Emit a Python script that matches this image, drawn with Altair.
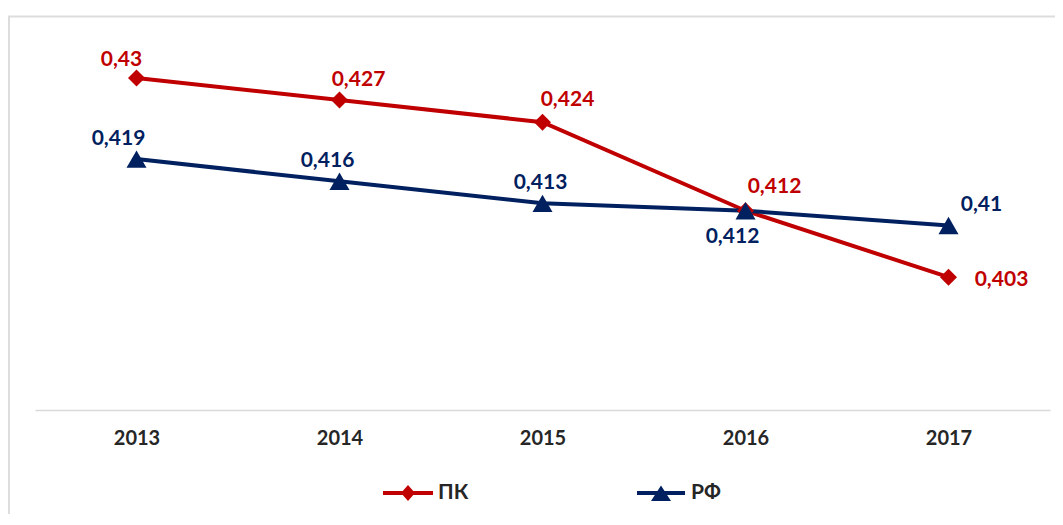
import altair as alt
import pandas as pd

# ---- data ----
years = ["2013", "2014", "2015", "2016", "2017"]
series_names = ["ПК", "РФ"]
pk_values = [0.43, 0.427, 0.424, 0.412, 0.403]
rf_values = [0.419, 0.416, 0.413, 0.412, 0.41]

# label offsets in px relative to each point (as placed in the original)
pk_label_dx = [-15, 19, 25, 29, 53]
pk_label_dy = [-18, -20, -22, -24, 3]
rf_label_dx = [-18, -12, -2, -13, 33]
rf_label_dy = [-20, -20, -20, 26, -21]

COLORS = {"ПК": "#C00000", "РФ": "#002060"}
SHAPES = {"ПК": "diamond", "РФ": "triangle-up"}
SIZES = {"ПК": 290, "РФ": 400}
LEGEND_PATHS = {
    "ПК": "M-1,-0.08L1,-0.08L1,0.08L-1,0.08Z M0,-0.32L0.28,0L0,0.32L-0.28,0Z",
    "РФ": "M-0.96,-0.08L0.96,-0.08L0.96,0.08L-0.96,0.08Z M0,-0.3L0.4,0.32L-0.4,0.32Z",
}
FONT = "Lato, 'Noto Sans', sans-serif"

values = {"ПК": pk_values, "РФ": rf_values}
dxs = {"ПК": pk_label_dx, "РФ": rf_label_dx}
dys = {"ПК": pk_label_dy, "РФ": rf_label_dy}

rows = []
for s in series_names:
    for y, v in zip(years, values[s]):
        rows.append({"year": y, "series": s, "value": v,
                     "label": str(v).replace(".", ",")})
df = pd.DataFrame(rows)

W, H = 1015, 369

x_enc = alt.X("year:O", scale=alt.Scale(type="point", padding=0.5),
              axis=alt.Axis(title=None, ticks=False, labelAngle=0,
                            labelFont=FONT, labelFontSize=20, labelFontWeight="bold",
                            labelColor="#262626", labelPadding=18,
                            domainColor="#D9D9D9", domainWidth=1.5, grid=False))
y_enc = alt.Y("value:Q", scale=alt.Scale(domain=[0.385, 0.435], nice=False, zero=False),
              axis=None)

frame = alt.Chart(pd.DataFrame({"a": [0]})).mark_rect(
    fillOpacity=0, stroke="#DDDDDD", strokeWidth=2
).encode(x=alt.value(-26), x2=alt.value(W + 60), y=alt.value(-24.5), y2=alt.value(H + 300))

layers = [frame]
for s in series_names:
    layers.append(
        alt.Chart(df).transform_filter(alt.datum.series == s)
        .mark_line(color=COLORS[s], strokeWidth=4)
        .encode(x=x_enc, y=y_enc)
    )
for s in series_names:
    layers.append(
        alt.Chart(df).transform_filter(alt.datum.series == s)
        .mark_point(filled=True, shape=SHAPES[s], size=SIZES[s], color=COLORS[s], opacity=1)
        .encode(x=x_enc, y=y_enc)
    )
for s in series_names:
    for i, yr in enumerate(years):
        layers.append(
            alt.Chart(df)
            .transform_filter((alt.datum.series == s) & (alt.datum.year == yr))
            .mark_text(dx=dxs[s][i], dy=dys[s][i], font=FONT, fontSize=21,
                       fontWeight="bold", color=COLORS[s], align="center", baseline="middle")
            .encode(x=x_enc, y=y_enc, text="label:N")
        )

legend_def = alt.Legend(
    title=None, orient="none", legendX=348, legendY=427, direction="horizontal",
    symbolSize=2500, symbolStrokeWidth=0, labelFont=FONT, labelFontSize=21,
    labelFontWeight="bold", labelColor="#262626", columnPadding=167, labelOffset=5,
)
legend_layer = (
    alt.Chart(df).transform_filter("false")
    .mark_point(filled=True, opacity=1)
    .encode(
        color=alt.Color("series:N", scale=alt.Scale(domain=series_names,
                        range=[COLORS[s] for s in series_names]), legend=legend_def),
        shape=alt.Shape("series:N", scale=alt.Scale(domain=series_names,
                        range=[LEGEND_PATHS[s] for s in series_names]), legend=legend_def),
    )
)
layers.append(legend_layer)

chart = alt.layer(*layers).properties(
    width=W, height=H,
    padding={"left": 27, "top": 33, "right": 5, "bottom": 104},
    autosize=alt.AutoSizeParams(type="none"),
    background="white",
).configure_view(stroke=None)

chart.save("out.html", embed_options={"renderer": "svg", "actions": False})
